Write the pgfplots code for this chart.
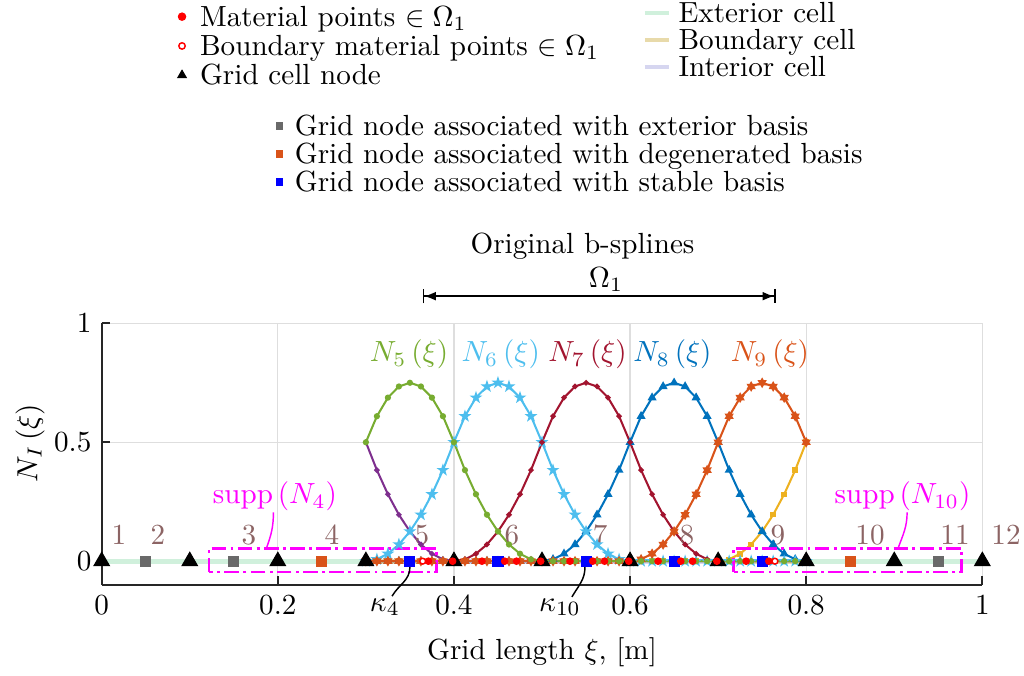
\documentclass[border=0pt]{standalone}
\usepackage{pgfplots}
\pgfplotsset{compat=1.18}
\usepackage{pgfplotstable}
\usetikzlibrary{arrows.meta,plotmarks}

\definecolor{mBlue}{rgb}{0,0.447,0.741}
\definecolor{mOrange}{rgb}{0.850,0.325,0.098}
\definecolor{mYellow}{rgb}{0.929,0.694,0.125}
\definecolor{mPurple}{rgb}{0.494,0.184,0.556}
\definecolor{mGreen}{rgb}{0.466,0.674,0.188}
\definecolor{mCyan}{rgb}{0.301,0.745,0.933}
\definecolor{mRed}{rgb}{0.635,0.078,0.184}
\definecolor{extC}{RGB}{208,240,220}
\definecolor{bndC}{RGB}{232,218,170}
\definecolor{intC}{RGB}{214,214,240}
\definecolor{numC}{RGB}{140,100,100}
\definecolor{sqGrey}{RGB}{105,105,105}
\definecolor{sqOrange}{RGB}{217,83,25}
\definecolor{mag}{RGB}{255,0,255}
\definecolor{pureRed}{RGB}{255,0,0}
\definecolor{pureBlue}{RGB}{0,0,255}

\pgfdeclareplotmark{pentagram}{%
  \pgfpathmoveto{\pgfpointpolar{90}{\pgfplotmarksize}}%
  \pgfpathlineto{\pgfpointpolar{126}{0.382\pgfplotmarksize}}%
  \pgfpathlineto{\pgfpointpolar{162}{\pgfplotmarksize}}%
  \pgfpathlineto{\pgfpointpolar{198}{0.382\pgfplotmarksize}}%
  \pgfpathlineto{\pgfpointpolar{234}{\pgfplotmarksize}}%
  \pgfpathlineto{\pgfpointpolar{270}{0.382\pgfplotmarksize}}%
  \pgfpathlineto{\pgfpointpolar{306}{\pgfplotmarksize}}%
  \pgfpathlineto{\pgfpointpolar{342}{0.382\pgfplotmarksize}}%
  \pgfpathlineto{\pgfpointpolar{18}{\pgfplotmarksize}}%
  \pgfpathlineto{\pgfpointpolar{54}{0.382\pgfplotmarksize}}%
  \pgfpathclose\pgfusepathqfillstroke}
\pgfdeclareplotmark{hexagram}{%
  \pgfpathmoveto{\pgfpointpolar{90}{\pgfplotmarksize}}%
  \pgfpathlineto{\pgfpointpolar{120}{0.577\pgfplotmarksize}}%
  \pgfpathlineto{\pgfpointpolar{150}{\pgfplotmarksize}}%
  \pgfpathlineto{\pgfpointpolar{180}{0.577\pgfplotmarksize}}%
  \pgfpathlineto{\pgfpointpolar{210}{\pgfplotmarksize}}%
  \pgfpathlineto{\pgfpointpolar{240}{0.577\pgfplotmarksize}}%
  \pgfpathlineto{\pgfpointpolar{270}{\pgfplotmarksize}}%
  \pgfpathlineto{\pgfpointpolar{300}{0.577\pgfplotmarksize}}%
  \pgfpathlineto{\pgfpointpolar{330}{\pgfplotmarksize}}%
  \pgfpathlineto{\pgfpointpolar{0}{0.577\pgfplotmarksize}}%
  \pgfpathlineto{\pgfpointpolar{30}{\pgfplotmarksize}}%
  \pgfpathlineto{\pgfpointpolar{60}{0.577\pgfplotmarksize}}%
  \pgfpathclose\pgfusepathqfillstroke}

\pgfplotsset{
  markleg/.style={legend image code/.code={\path[draw=none,fill=none] (-3pt,0pt) -- (3pt,0pt);\draw[##1] plot coordinates {(0pt,0pt)};}},
  sqleg/.style={legend image code/.code={\path[draw=none,fill=none] (-2.5pt,0pt) -- (2.5pt,0pt);\draw[##1] plot coordinates {(0pt,0pt)};}},
  lineleg/.style={legend image code/.code={\draw[##1] (0pt,0pt) -- (8.2pt,0pt);}},
  overlay axis/.style={at={(0pt,0pt)}, anchor=south west, scale only axis,
    width=302.2pt, height=89.8pt, hide axis, xmin=0, xmax=1, ymin=0, ymax=1,
    legend cell align=left},
}

\pgfplotstableread{
x n4 n5 n6 n7 n8 n9 n10
0.3000 0.5000 0.5000 0.0000 0 0 0 0
0.3125 0.3828 0.6094 0.0078 0 0 0 0
0.3250 0.2813 0.6875 0.0313 0 0 0 0
0.3375 0.1953 0.7344 0.0703 0 0 0 0
0.3500 0.1250 0.7500 0.1250 0 0 0 0
0.3625 0.0703 0.7344 0.1953 0 0 0 0
0.3750 0.0313 0.6875 0.2813 0 0 0 0
0.3875 0.0078 0.6094 0.3828 0 0 0 0
0.4000 0 0.5000 0.5000 0 0 0 0
0.4125 0 0.3828 0.6094 0.0078 0 0 0
0.4250 0 0.2813 0.6875 0.0313 0 0 0
0.4375 0 0.1953 0.7344 0.0703 0 0 0
0.4500 0 0.1250 0.7500 0.1250 0 0 0
0.4625 0 0.0703 0.7344 0.1953 0 0 0
0.4750 0 0.0313 0.6875 0.2813 0 0 0
0.4875 0 0.0078 0.6094 0.3828 0 0 0
0.5000 0 0 0.5000 0.5000 0 0 0
0.5125 0 0 0.3828 0.6094 0.0078 0 0
0.5250 0 0 0.2813 0.6875 0.0313 0 0
0.5375 0 0 0.1953 0.7344 0.0703 0 0
0.5500 0 0 0.1250 0.7500 0.1250 0 0
0.5625 0 0 0.0703 0.7344 0.1953 0 0
0.5750 0 0 0.0313 0.6875 0.2813 0 0
0.5875 0 0 0.0078 0.6094 0.3828 0 0
0.6000 0 0 0 0.5000 0.5000 0 0
0.6125 0 0 0 0.3828 0.6094 0.0078 0
0.6250 0 0 0 0.2813 0.6875 0.0313 0
0.6375 0 0 0 0.1953 0.7344 0.0703 0
0.6500 0 0 0 0.1250 0.7500 0.1250 0
0.6625 0 0 0 0.0703 0.7344 0.1953 0
0.6750 0 0 0 0.0313 0.6875 0.2813 0
0.6875 0 0 0 0.0078 0.6094 0.3828 0
0.7000 0 0 0 0 0.5000 0.5000 0
0.7125 0 0 0 0 0.3828 0.6094 0.0078
0.7250 0 0 0 0 0.2813 0.6875 0.0313
0.7375 0 0 0 0 0.1953 0.7344 0.0703
0.7500 0 0 0 0 0.1250 0.7500 0.1250
0.7625 0 0 0 0 0.0703 0.7344 0.1953
0.7750 0 0 0 0 0.0313 0.6875 0.2813
0.7875 0 0 0 0 0.0078 0.6094 0.3828
0.8000 0 0 0 0 0 0.5000 0.5000
}\basis

\begin{document}
\begin{tikzpicture}
\begin{axis}[
  at={(0pt,0pt)}, anchor=south west,
  scale only axis, width=302.2pt, height=89.8pt,
  xmin=0, xmax=1, ymin=-0.1, ymax=1,
  axis lines*=left,
  axis line style={black!85, line width=0.6pt},
  xtick={0,0.2,0.4,0.6,0.8,1},
  ytick={0,0.5,1},
  tick align=inside, major tick length=3pt,
  tick style={black!85, line width=0.6pt},
  grid=major, major grid style={black!13, line width=0.4pt},
  clip=false,
  xlabel={Grid length $\xi$, [m]},
  ylabel={$N_I\left(\xi\right)$},
  xlabel style={at={(axis description cs:0.5,-0.256)}, anchor=center},
  ylabel style={at={(axis description cs:-0.0814,0.5426)}, anchor=center},
]
% cell lines
\addplot[extC, line width=1.6pt, forget plot] coordinates {(0,0) (0.3,0)};
\addplot[bndC, line width=1.6pt, forget plot] coordinates {(0.3,0) (0.4,0)};
\addplot[intC, line width=1.6pt, forget plot] coordinates {(0.4,0) (0.7,0)};
\addplot[bndC, line width=1.6pt, forget plot] coordinates {(0.7,0) (0.8,0)};
\addplot[extC, line width=1.6pt, forget plot] coordinates {(0.8,0) (1,0)};
% basis functions
\addplot[mYellow, line width=0.7pt, mark=square*, mark size=0.6pt] table[x=x,y=n10]{\basis};
\addplot[mPurple, line width=0.7pt, mark=*, mark size=0.55pt] table[x=x,y=n4]{\basis};
\addplot[mBlue, line width=0.7pt, mark=triangle*, mark size=1.1pt] table[x=x,y=n8]{\basis};
\addplot[mCyan, line width=0.7pt, mark=pentagram, mark size=1.2pt] table[x=x,y=n6]{\basis};
\addplot[mRed, line width=0.7pt, mark=*, mark size=0.55pt] table[x=x,y=n7]{\basis};
\addplot[mOrange, line width=0.7pt, mark=hexagram, mark size=1.15pt] table[x=x,y=n9]{\basis};
\addplot[mGreen, line width=0.7pt, mark=*, mark size=0.7pt] table[x=x,y=n5]{\basis};
% grid cell nodes
\addplot[only marks, mark=triangle*, mark size=3pt, black] coordinates {
(0,0) (0.1,0) (0.2,0) (0.3,0) (0.4,0) (0.5,0) (0.6,0) (0.7,0) (0.8,0) (0.9,0) (1,0)};
% grid nodes associated with basis
\addplot[only marks, mark=square*, mark size=1.7pt, sqGrey] coordinates {(0.05,0) (0.15,0) (0.95,0)};
\addplot[only marks, mark=square*, mark size=1.7pt, sqOrange] coordinates {(0.25,0) (0.85,0)};
\addplot[only marks, mark=square*, mark size=1.7pt, pureBlue] coordinates {(0.35,0) (0.45,0) (0.55,0) (0.65,0) (0.75,0)};
% material points
\addplot[only marks, mark=*, mark size=1.1pt, pureRed] coordinates {
(0.3710,0) (0.3985,0) (0.4318,0) (0.4576,0) (0.4710,0) (0.4985,0)
(0.5318,0) (0.5576,0) (0.5710,0) (0.5985,0) (0.6318,0) (0.6576,0)
(0.6710,0) (0.6985,0) (0.7318,0) (0.7576,0)};
\addplot[only marks, mark=*, mark size=1.0pt, pureRed, mark options={fill=white, draw=pureRed, line width=0.5pt}] coordinates {(0.3645,0) (0.7645,0)};

% curve labels
\node[mGreen, anchor=base] at (axis cs:0.349,0.8388) {$N_5\left(\xi\right)$};
\node[mCyan, anchor=base] at (axis cs:0.4532,0.8388) {$N_6\left(\xi\right)$};
\node[mRed, anchor=base] at (axis cs:0.5517,0.8388) {$N_7\left(\xi\right)$};
\node[mBlue, anchor=base] at (axis cs:0.6482,0.8388) {$N_8\left(\xi\right)$};
\node[mOrange, anchor=base] at (axis cs:0.7589,0.8388) {$N_9\left(\xi\right)$};
% node numbers
\node[numC, anchor=base] at (axis cs:0.0196,0.0712) {$1$};
\node[numC, anchor=base] at (axis cs:0.0639,0.0712) {$2$};
\node[numC, anchor=base] at (axis cs:0.1673,0.0712) {$3$};
\node[numC, anchor=base] at (axis cs:0.2615,0.0712) {$4$};
\node[numC, anchor=base] at (axis cs:0.3637,0.0712) {$5$};
\node[numC, anchor=base] at (axis cs:0.4659,0.0712) {$6$};
\node[numC, anchor=base] at (axis cs:0.5659,0.0712) {$7$};
\node[numC, anchor=base] at (axis cs:0.6646,0.0712) {$8$};
\node[numC, anchor=base] at (axis cs:0.7680,0.0712) {$9$};
\node[numC, anchor=base] at (axis cs:0.8725,0.0712) {$10$};
\node[numC, anchor=base] at (axis cs:0.9690,0.0712) {$11$};
\node[numC, anchor=base] at (axis cs:1.0269,0.0712) {$12$};
% support boxes
\draw[mag, line width=0.9pt, dash pattern=on 5pt off 1.5pt on 1pt off 1.5pt]
  (axis cs:0.122,-0.046) rectangle (axis cs:0.380,0.054);
\draw[mag, line width=0.9pt, dash pattern=on 5pt off 1.5pt on 1pt off 1.5pt]
  (axis cs:0.7177,-0.046) rectangle (axis cs:0.976,0.054);
\node[mag] at (axis cs:0.1968,0.272) {$\mathrm{supp}\left(N_4\right)$};
\node[mag] at (axis cs:0.9094,0.272) {$\mathrm{supp}\left(N_{10}\right)$};
\draw[mag, line width=0.5pt] (axis cs:0.195,0.205) to[out=-90,in=70] (axis cs:0.187,0.054);
\draw[mag, line width=0.5pt] (axis cs:0.9146,0.205) to[out=-90,in=70] (axis cs:0.9043,0.054);
% kappa labels
\node at (axis cs:0.3216,-0.1926) {$\kappa_4$};
\node at (axis cs:0.5204,-0.1926) {$\kappa_{10}$};
\draw[black, line width=0.5pt] (axis cs:0.35,-0.025) to[out=-90,in=60] (axis cs:0.3297,-0.147);
\draw[black, line width=0.5pt] (axis cs:0.5488,-0.025) to[out=-90,in=60] (axis cs:0.534,-0.15);
% domain annotation
\node[anchor=base] at (axis cs:0.546,1.2952) {Original b-splines};
\node[anchor=base] at (axis cs:0.5727,1.1516) {$\Omega_1$};
\draw[line width=0.5pt, {Bar[width=5pt]Latex[length=4pt,width=3pt]}-{Latex[length=4pt,width=3pt]Bar[width=5pt]}]
  (axis cs:0.3645,1.114) -- (axis cs:0.7654,1.114);
\end{axis}

% legend 1
\begin{axis}[overlay axis,
  legend style={at={(0.0813,2.2277)}, anchor=north west, draw=none, fill=none,
    inner sep=0pt, outer sep=0pt, row sep=0pt, column sep=3.2pt,
    nodes={inner sep=0pt, outer sep=0pt, text height=8.3pt, text depth=1.75pt}}]
\addlegendimage{markleg, pureRed, mark=*, mark size=1.25pt}
\addlegendentry{Material points $\in\Omega_1$}
\addlegendimage{markleg, pureRed, mark=*, mark size=1.1pt, mark options={fill=white, draw=pureRed, line width=0.5pt}}
\addlegendentry{Boundary material points $\in\Omega_1$}
\addlegendimage{markleg, black, mark=triangle*, mark size=1.65pt}
\addlegendentry{Grid cell node}
\end{axis}

% legend 2
\begin{axis}[overlay axis,
  legend style={at={(0.6147,2.2380)}, anchor=north west, draw=none, fill=none,
    inner sep=0pt, outer sep=0pt, row sep=0pt, column sep=2.8pt,
    nodes={inner sep=0pt, outer sep=0pt, text height=8.1pt, text depth=1.17pt}}]
\addlegendimage{lineleg, extC, line width=1.2pt}
\addlegendentry{Exterior cell}
\addlegendimage{lineleg, bndC, line width=1.2pt}
\addlegendentry{Boundary cell}
\addlegendimage{lineleg, intC, line width=1.2pt}
\addlegendentry{Interior cell}
\end{axis}

% legend 3
\begin{axis}[overlay axis,
  legend style={at={(0.1936,1.8074)}, anchor=north west, draw=none, fill=none,
    inner sep=0pt, outer sep=0pt, row sep=0pt, column sep=2.8pt,
    nodes={inner sep=0pt, outer sep=0pt, text height=8.2pt, text depth=1.35pt}}]
\addlegendimage{sqleg, sqGrey, mark=square*, mark size=1.15pt}
\addlegendentry{Grid node associated with exterior basis}
\addlegendimage{sqleg, sqOrange, mark=square*, mark size=1.15pt}
\addlegendentry{Grid node associated with degenerated basis}
\addlegendimage{sqleg, pureBlue, mark=square*, mark size=1.15pt}
\addlegendentry{Grid node associated with stable basis}
\end{axis}

\pgfresetboundingbox
\useasboundingbox (-34.9pt,-30.9pt) rectangle (316.5pt,200.75pt);
\end{tikzpicture}
\end{document}
